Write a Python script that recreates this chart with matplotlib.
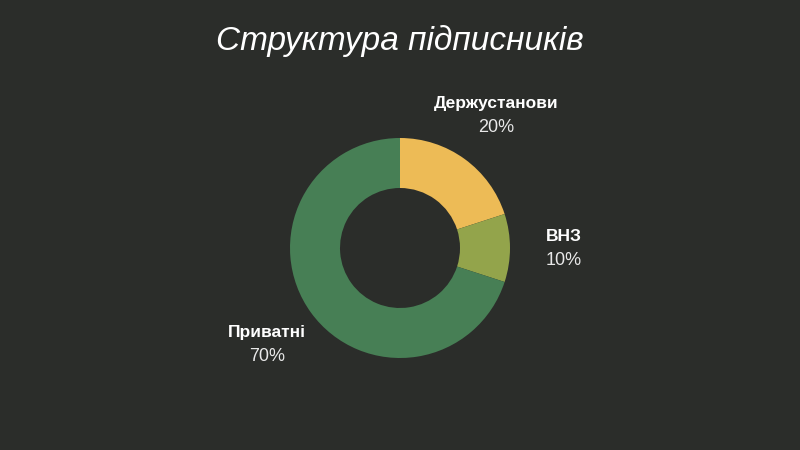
import numpy as np
import matplotlib.pyplot as plt

plt.rcParams['font.family'] = ['Liberation Sans', 'DejaVu Sans']

categories = ['Держустанови', 'ВНЗ', 'Приватні']
values = [20, 10, 70]
colors = ['#EDBB56', '#93A44B', '#477F55']
bg = '#2B2D2A'

fig = plt.figure(figsize=(8, 4.5), dpi=100, facecolor=bg)
ax = fig.add_axes([0, 0, 1, 1])
ax.set_facecolor(bg)

center = (0, -0.23)
radius = 1.1
wedges, _ = ax.pie(values, colors=colors, startangle=90, counterclock=False,
                   radius=radius, center=center, frame=True,
                   wedgeprops=dict(width=0.5, edgecolor='none'))
ax.set_xlim(-4, 4)
ax.set_ylim(-2.25, 2.25)
ax.set_aspect('equal')
ax.axis('off')

# підписи: назва жирним, відсоток під нею
for w, name, v in zip(wedges, categories, values):
    ang = np.deg2rad((w.theta1 + w.theta2) / 2)
    d = 1.64
    x = center[0] + d * np.cos(ang)
    y = center[1] + d * np.sin(ang)
    ax.text(x, y + 0.12, name, color='white', fontsize=12.5, fontweight='bold',
            ha='center', va='center')
    ax.text(x, y - 0.12, f'{v}%', color='#E8E8E8', fontsize=13,
            ha='center', va='center')

fig.text(0.5, 1 - 41 / 450, 'Структура підписників', color='white',
         fontsize=24, style='italic', ha='center', va='center')

fig.savefig('out.png', dpi=100, facecolor=bg)
